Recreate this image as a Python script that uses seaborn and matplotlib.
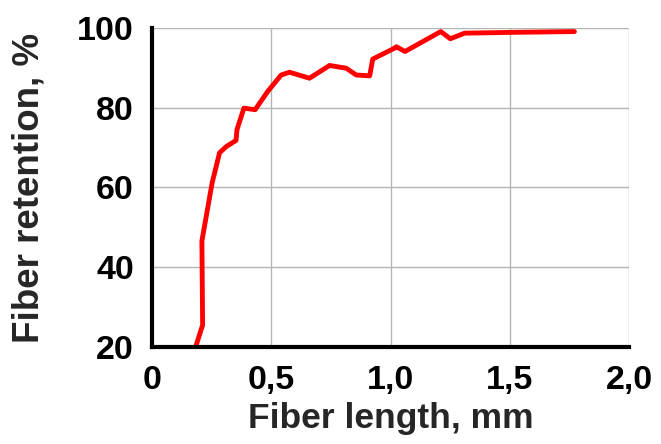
import pandas as pd
import matplotlib.pyplot as plt
import seaborn as sns

# fiber length (mm) vs retention (%)
length_mm = [0.18, 0.212, 0.209, 0.252, 0.283, 0.312, 0.352, 0.356, 0.385, 0.432,
             0.485, 0.541, 0.576, 0.660, 0.744, 0.814, 0.856, 0.912, 0.925, 1.015,
             1.024, 1.06, 1.21, 1.25, 1.31, 1.51, 1.77]
retention = [19.5, 25.5, 46.6, 61.2, 68.7, 70.3, 71.8, 74.5, 79.9, 79.5,
             84.1, 88.2, 88.9, 87.4, 90.6, 89.9, 88.2, 88.0, 92.2, 94.9,
             95.3, 94.1, 99.1, 97.3, 98.7, 98.9, 99.1]

x_ticks = [0, 0.5, 1.0, 1.5, 2.0]
x_tick_labels = ['0', '0,5', '1,0', '1,5', '2,0']
y_ticks = [20, 40, 60, 80, 100]

df = pd.DataFrame({'length': length_mm, 'retention': retention})

sns.set_style('white')
plt.rcParams['font.family'] = ['Liberation Sans', 'DejaVu Sans']
plt.rcParams['font.weight'] = 'bold'

fig = plt.figure(figsize=(6.61, 4.44), dpi=100)
ax = fig.add_axes([0.230, 0.2185, 0.722, 0.7185])

sns.lineplot(data=df, x='length', y='retention', sort=False, estimator=None,
             color='#ff0000', linewidth=3.5, ax=ax)

ax.set_xlim(0, 2.0)
ax.set_ylim(20, 100)
ax.set_xticks(x_ticks)
ax.set_xticklabels(x_tick_labels)
ax.set_yticks(y_ticks)

ax.grid(True, color='#b4b4b4', linewidth=1.0)
ax.set_axisbelow(True)
for side in ['top', 'right']:
    ax.spines[side].set_visible(False)
for side in ['left', 'bottom']:
    ax.spines[side].set_linewidth(3)
    ax.spines[side].set_color('black')

ax.tick_params(axis='both', direction='inout', length=12, width=2.5,
               labelsize=24.5, colors='black', pad=7)
for lbl in ax.get_xticklabels() + ax.get_yticklabels():
    lbl.set_fontweight('bold')

ax.set_xlabel('Fiber length, mm', fontsize=25.5, fontweight='bold', labelpad=4)
ax.set_ylabel('Fiber retention, %', fontsize=26.5, fontweight='bold', labelpad=22)

fig.savefig('out.png', dpi=100)
plt.close()
